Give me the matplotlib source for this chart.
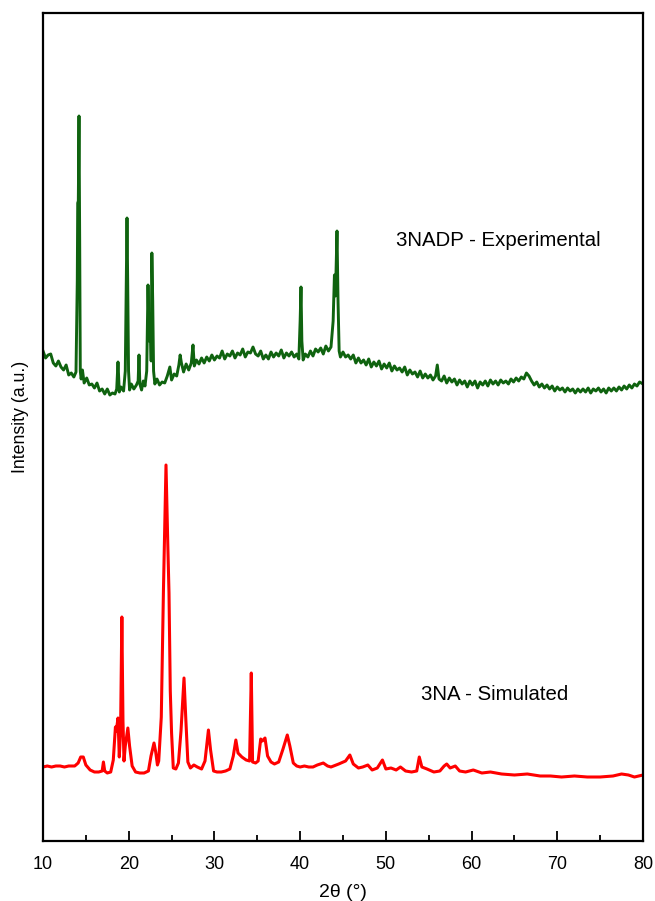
import matplotlib
matplotlib.use("Agg")
import matplotlib.pyplot as plt
from matplotlib.ticker import MultipleLocator

plt.rcParams['font.family'] = ['Liberation Sans', 'DejaVu Sans']

# 3NADP - Experimental (2theta, intensity a.u.)
exp_2theta = [10.0, 10.3, 10.6, 10.9, 11.2, 11.5, 11.8, 12.1, 12.4, 12.7, 13.0, 13.3, 13.6, 13.85,
              14.0, 14.05, 14.12, 14.2, 14.28, 14.35, 14.45, 14.6, 14.8, 15.1, 15.4, 15.7, 16.0, 16.3,
              16.6, 16.9, 17.2, 17.5, 17.8, 18.1, 18.4, 18.6, 18.75, 18.9, 19.1, 19.4, 19.6, 19.72,
              19.8, 19.88, 19.98, 20.1, 20.3, 20.6, 20.9, 21.1, 21.2, 21.3, 21.5, 21.7, 21.9, 22.1,
              22.25, 22.38, 22.5, 22.62, 22.7, 22.8, 22.9, 23.05, 23.3, 23.6, 23.9, 24.2, 24.5, 24.8,
              25.0, 25.3, 25.6, 25.85, 26.0, 26.15, 26.4, 26.7, 27.0, 27.3, 27.5, 27.65, 27.9, 28.2,
              28.5, 28.8, 29.1, 29.4, 29.7, 30.0, 30.3, 30.6, 30.9, 31.2, 31.5, 31.8, 32.1, 32.4,
              32.7, 33.0, 33.3, 33.6, 33.9, 34.2, 34.5, 34.8, 35.1, 35.4, 35.7, 36.0, 36.3, 36.6,
              36.9, 37.2, 37.5, 37.8, 38.1, 38.4, 38.7, 39.0, 39.3, 39.6, 39.85, 40.0, 40.1, 40.2,
              40.35, 40.6, 40.9, 41.2, 41.5, 41.8, 42.1, 42.4, 42.7, 43.0, 43.3, 43.6, 43.85, 44.0,
              44.12, 44.3, 44.42, 44.55, 44.7, 45.0, 45.3, 45.6, 45.9, 46.2, 46.5, 46.8, 47.1, 47.4,
              47.7, 48.0, 48.3, 48.6, 48.9, 49.2, 49.5, 49.8, 50.1, 50.4, 50.7, 51.0, 51.3, 51.6,
              51.9, 52.2, 52.5, 52.8, 53.1, 53.4, 53.7, 54.0, 54.3, 54.6, 54.9, 55.2, 55.5, 55.8,
              56.0, 56.2, 56.5, 56.8, 57.1, 57.4, 57.7, 58.0, 58.3, 58.6, 58.9, 59.2, 59.5, 59.8,
              60.1, 60.4, 60.7, 61.0, 61.3, 61.6, 61.9, 62.2, 62.5, 62.8, 63.1, 63.4, 63.7, 64.0,
              64.3, 64.6, 64.9, 65.2, 65.5, 65.8, 66.1, 66.4, 66.7, 67.0, 67.3, 67.6, 67.9, 68.2,
              68.5, 68.8, 69.1, 69.4, 69.7, 70.0, 70.3, 70.6, 70.9, 71.2, 71.5, 71.8, 72.1, 72.4,
              72.7, 73.0, 73.3, 73.6, 73.9, 74.2, 74.5, 74.8, 75.1, 75.4, 75.7, 76.0, 76.3, 76.6,
              76.9, 77.2, 77.5, 77.8, 78.1, 78.4, 78.7, 79.0, 79.3, 79.6, 80.0]
exp_intensity = [490, 483, 486, 487, 478, 475, 480, 474, 471, 476, 466, 468, 464, 469,
                 560, 638, 640, 725, 600, 470, 462, 471, 458, 463, 456, 457, 453, 458,
                 450, 452, 447, 452, 446, 448, 447, 452, 479, 449, 454, 450, 470, 560,
                 623, 560, 470, 451, 457, 452, 456, 460, 486, 457, 451, 460, 455, 470,
                 556, 500, 524, 480, 588, 540, 470, 457, 462, 456, 459, 458, 465, 474,
                 461, 467, 465, 476, 486, 478, 469, 477, 471, 478, 496, 475, 481, 477,
                 483, 478, 484, 480, 486, 481, 485, 483, 490, 482, 487, 485, 490, 483,
                 488, 486, 492, 484, 489, 488, 494, 487, 485, 490, 482, 486, 482, 489,
                 484, 488, 485, 491, 483, 488, 485, 489, 484, 487, 482, 520, 554, 500,
                 481, 487, 484, 490, 485, 492, 489, 493, 487, 495, 490, 494, 520, 566,
                 545, 610, 540, 490, 484, 489, 484, 486, 482, 486, 478, 483, 478, 481,
                 476, 482, 474, 479, 475, 480, 472, 477, 473, 478, 470, 475, 471, 473,
                 469, 474, 466, 471, 467, 469, 464, 470, 463, 467, 463, 466, 461, 465,
                 476, 462, 460, 465, 458, 463, 459, 462, 456, 461, 457, 460, 454, 460,
                 456, 460, 453, 459, 456, 460, 455, 461, 457, 460, 456, 461, 458, 460,
                 457, 462, 459, 463, 460, 464, 462, 468, 465, 460, 456, 459, 454, 457,
                 453, 456, 452, 455, 450, 454, 451, 453, 449, 453, 450, 452, 448, 452,
                 449, 452, 449, 453, 448, 452, 450, 453, 449, 452, 448, 453, 450, 453,
                 450, 454, 451, 455, 452, 456, 453, 457, 455, 459, 457]

# 3NA - Simulated (2theta, intensity a.u.)
sim_2theta = [10.0, 10.5, 11.0, 11.5, 12.0, 12.5, 13.0, 13.7, 14.1, 14.4, 14.7, 15.0, 15.5, 16.0,
              16.5, 16.9, 17.05, 17.2, 17.5, 17.9, 18.2, 18.45, 18.55, 18.75, 18.9, 19.05, 19.2,
              19.33, 19.45, 19.6, 19.9, 20.1, 20.4, 20.8, 21.3, 21.8, 22.3, 22.6, 22.95, 23.15,
              23.35, 23.5, 23.8, 24.05, 24.35, 24.55, 24.7, 24.85, 25.0, 25.2, 25.5, 25.8, 26.1,
              26.45, 26.65, 26.9, 27.2, 27.6, 28.0, 28.5, 28.9, 29.3, 29.55, 29.9, 30.3, 30.8,
              31.3, 31.8, 32.2, 32.5, 32.75, 33.2, 33.7, 34.1, 34.3, 34.45, 34.8, 35.1, 35.4,
              35.6, 35.9, 36.2, 36.6, 37.0, 37.5, 38.0, 38.5, 38.8, 39.2, 39.6, 40.0, 40.5, 41.0,
              41.5, 42.0, 42.7, 43.2, 43.6, 44.5, 45.3, 45.8, 46.2, 46.8, 47.3, 47.9, 48.4, 49.0,
              49.6, 50.0, 50.6, 51.2, 51.7, 52.3, 53.0, 53.6, 53.9, 54.2, 54.8, 55.6, 56.3, 56.8,
              57.1, 57.5, 58.1, 58.6, 59.3, 60.2, 61.2, 62.2, 63.5, 65.0, 66.5, 68.0, 69.2, 70.5,
              72.0, 73.5, 75.0, 76.5, 77.5, 78.3, 79.0, 80.0]
sim_intensity = [74, 75, 74, 75, 75, 74, 75, 75, 78, 84, 84, 76, 71, 69,
                 69, 70, 79, 70, 68, 69, 81, 114, 110, 123, 84, 110, 224,
                 120, 80, 95, 113, 95, 75, 69, 68, 68, 70, 85, 98, 89,
                 76, 80, 124, 250, 376, 300, 248, 150, 108, 73, 72, 78, 110,
                 163, 124, 79, 73, 76, 74, 72, 80, 111, 91, 70, 69, 69,
                 70, 72, 85, 101, 88, 84, 81, 80, 168, 79, 78, 80, 102,
                 100, 103, 85, 79, 77, 79, 92, 106, 95, 78, 75, 74, 75, 74,
                 74, 76, 78, 75, 74, 77, 80, 86, 77, 73, 74, 76, 71, 73,
                 81, 72, 73, 71, 74, 70, 69, 70, 84, 74, 72, 69, 70, 75,
                 77, 73, 75, 70, 69, 71, 68, 69, 67, 66, 67, 65, 65, 64,
                 65, 64, 64, 65, 67, 66, 64, 66]

W, H = 655, 901
fig = plt.figure(figsize=(W / 100, H / 100), dpi=100)
ax = fig.add_axes([43 / W, 1 - 841 / H, 600 / W, 828 / H])

ax.plot(exp_2theta, exp_intensity, color='#0f630f', lw=2.1, solid_joinstyle='round')
ax.plot(sim_2theta, sim_intensity, color='#ff0000', lw=2.2, solid_joinstyle='round')

ax.set_xlim(10, 80)
ax.set_ylim(0, 828)
ax.xaxis.set_major_locator(MultipleLocator(10))
ax.xaxis.set_minor_locator(MultipleLocator(5))
ax.tick_params(axis='x', which='major', direction='in', length=7, width=1.3,
               labelsize=13, pad=11, top=False)
ax.tick_params(axis='x', which='minor', direction='in', length=4, width=1.3, top=False)
ax.set_yticks([])
for s in ax.spines.values():
    s.set_linewidth(1.6)

ax.set_xlabel('2θ (°)', fontsize=14, labelpad=8)
ax.set_ylabel('Intensity (a.u.)', fontsize=12.8)
ax.yaxis.set_label_coords(-0.023, 0.512)

ax.text(51.2, 601, '3NADP - Experimental', fontsize=14.7, va='center', ha='left')
ax.text(54.1, 146, '3NA - Simulated', fontsize=14.7, va='center', ha='left')

fig.savefig('out.png', dpi=100)
